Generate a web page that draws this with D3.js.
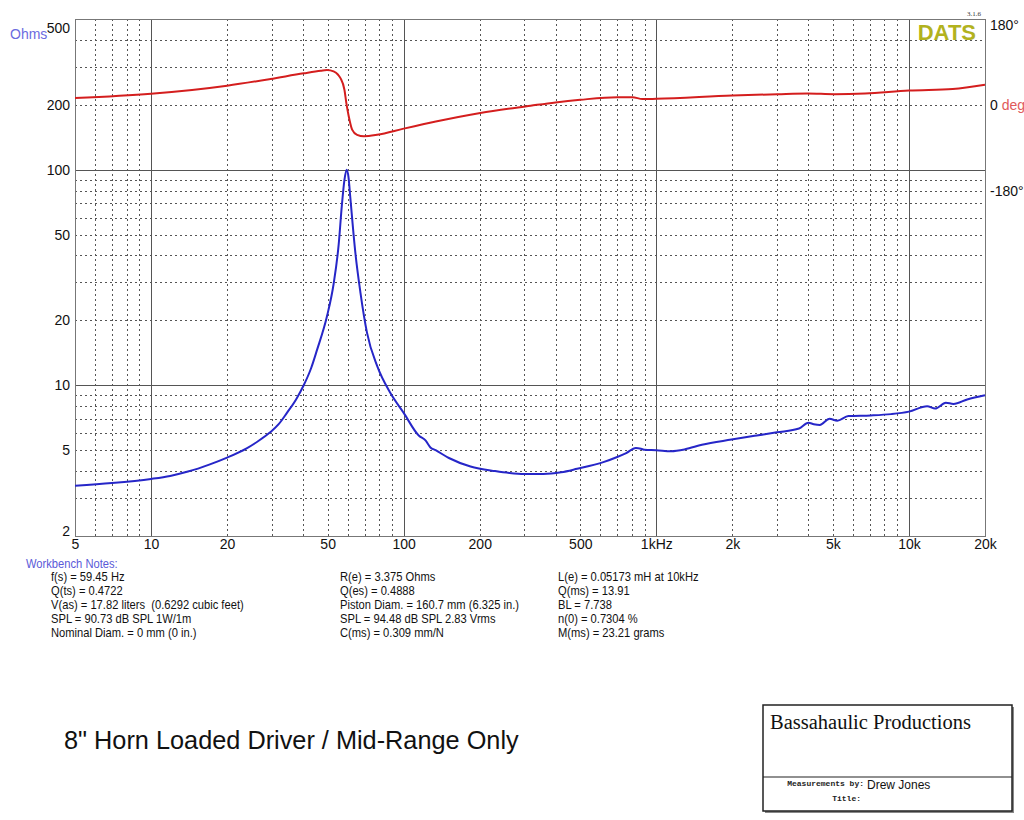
<!DOCTYPE html>
<html>
<head>
<meta charset="utf-8">
<script src="https://cdn.jsdelivr.net/npm/d3@7"></script>
<style>
  body { margin: 0; background: #fff; }
  svg { display: block; font-family: "Liberation Sans", Arial, sans-serif; }
  .grid line { stroke: #555; shape-rendering: crispEdges; }
  .grid .domain { display: none; }
  .lab .domain, .lab line { display: none; }
  .note { white-space: pre; }
</style>
</head>
<body>
<svg id="chart" width="1024" height="820"></svg>
<script>
// impedance sweep (Hz / ohms)
const zFreq = [5, 7, 10, 11.9, 14, 17.1, 20, 23.9, 26.5, 29.6, 32, 34.5, 37.5, 40.2, 43, 45.4, 49.7, 52.8, 55.3, 56.9, 58.3, 59.45, 60.5, 61.5, 64.4, 67.4, 71.6, 78.5, 88.6, 100, 114.7, 122, 127.6, 133.8, 151, 183.9, 230, 262, 300, 357, 420, 486, 617, 700, 760, 830, 870, 900, 1000, 1144, 1300, 1515, 1984, 2500, 3000, 3672, 4000, 4200, 4440, 4850, 5200, 5760, 7060, 8500, 10000, 11800, 12700, 14000, 15000, 17000, 20000];
const zOhms = [3.42, 3.52, 3.68, 3.8, 3.98, 4.3, 4.62, 5.1, 5.5, 6.05, 6.6, 7.45, 8.6, 10.0, 12.0, 14.6, 20.9, 29.5, 45, 68, 90, 100, 92, 74, 41, 27, 17.5, 12.3, 9.2, 7.45, 5.85, 5.55, 5.15, 5.0, 4.6, 4.2, 4.0, 3.92, 3.88, 3.88, 3.95, 4.1, 4.4, 4.65, 4.85, 5.12, 5.08, 5.02, 5.0, 4.95, 5.05, 5.3, 5.6, 5.85, 6.05, 6.3, 6.7, 6.6, 6.55, 7.0, 6.85, 7.2, 7.25, 7.35, 7.55, 8.0, 7.8, 8.3, 8.2, 8.6, 9.0];

// phase sweep (Hz / degrees)
const pFreq = [5, 10, 20, 29.6, 40.2, 47, 49.7, 52.8, 55, 56.2, 58.3, 59.3, 60.6, 62.5, 65.4, 69.6, 78.5, 100, 134, 201, 318, 399, 500, 702, 805, 881, 1000, 2000, 3020, 3970, 5066, 6700, 10000, 14900, 20000];
const pDeg = [14, 23, 40, 54, 66, 71.5, 73, 70, 63, 56, 31, 3.5, -24, -52, -63, -66, -63, -50, -35, -17, -2, 5, 10.5, 16, 16, 12, 12.6, 19.5, 22.3, 23.7, 22.3, 23.7, 30, 33, 42];

// tick labels
const xTicks = [5, 10, 20, 50, 100, 200, 500, 1000, 2000, 5000, 10000, 20000];
const xTickText = ["5", "10", "20", "50", "100", "200", "500", "1kHz", "2k", "5k", "10k", "20k"];
const yTicks = [2, 5, 10, 20, 50, 100, 200, 500];
const phaseTicks = [180, 0, -180];

// workbench notes, three columns
const notesCol1 = ["f(s) = 59.45 Hz", "Q(ts) = 0.4722", "V(as) = 17.82 liters  (0.6292 cubic feet)", "SPL = 90.73 dB SPL 1W/1m", "Nominal Diam. = 0 mm (0 in.)"];
const notesCol2 = ["R(e) = 3.375 Ohms", "Q(es) = 0.4888", "Piston Diam. = 160.7 mm (6.325 in.)", "SPL = 94.48 dB SPL 2.83 Vrms", "C(ms) = 0.309 mm/N"];
const notesCol3 = ["L(e) = 0.05173 mH at 10kHz", "Q(ms) = 13.91", "BL = 7.738", "n(0) = 0.7304 %", "M(ms) = 23.21 grams"];

const L = 75, R = 985, T = 19, B = 536;
const svg = d3.select("#chart");

const x = d3.scaleLog().domain([5, 20000]).range([L, R]);
const y = d3.scaleLog().domain([2, 500]).range([B, T]);
const yp = d3.scaleLinear().domain([-180, 180]).range([y(80), T]);

// grid values: every 1..9 multiple inside the domains
const minorX = [], majorX = [10, 100, 1000, 10000];
for (let d = 1; d <= 10000; d *= 10)
  for (let m = 1; m < 10; m++) {
    const v = d * m;
    if (v > 5 && v < 20000 && !majorX.includes(v)) minorX.push(v);
  }
const minorY = [], majorY = [10, 100];
for (let d = 1; d <= 100; d *= 10)
  for (let m = 1; m < 10; m++) {
    const v = d * m;
    if (v > 2 && v < 500 && !majorY.includes(v)) minorY.push(v);
  }

const H = B - T, W = R - L;

svg.append("g").attr("class", "grid").attr("transform", `translate(0,${B})`)
  .call(d3.axisBottom(x).tickValues(minorX).tickSize(-H).tickFormat(""))
  .selectAll("line").attr("stroke-dasharray", "2,3");
svg.append("g").attr("class", "grid").attr("transform", `translate(${L},0)`)
  .call(d3.axisLeft(y).tickValues(minorY).tickSize(-W).tickFormat(""))
  .selectAll("line").attr("stroke-dasharray", "2,3");
svg.append("g").attr("class", "grid").attr("transform", `translate(0,${B})`)
  .call(d3.axisBottom(x).tickValues(majorX).tickSize(-H).tickFormat(""))
  .selectAll("line").attr("stroke", "#666");
svg.append("g").attr("class", "grid").attr("transform", `translate(${L},0)`)
  .call(d3.axisLeft(y).tickValues(majorY).tickSize(-W).tickFormat(""))
  .selectAll("line").attr("stroke", "#666");

svg.append("rect").attr("x", L).attr("y", T).attr("width", W).attr("height", H)
  .attr("fill", "none").attr("stroke", "#777").attr("shape-rendering", "crispEdges");

// axis labels
const xl = svg.append("g").attr("class", "lab").attr("transform", `translate(0,${B})`)
  .call(d3.axisBottom(x).tickValues(xTicks).tickSize(0).tickPadding(3)
    .tickFormat((d, i) => xTickText[i]));
xl.selectAll("text").attr("font-size", 14).attr("fill", "#111")
  .attr("font-family", "Liberation Sans, Arial, sans-serif");

const yl = svg.append("g").attr("class", "lab").attr("transform", `translate(${L},0)`)
  .call(d3.axisLeft(y).tickValues(yTicks).tickSize(0).tickPadding(5).tickFormat(d3.format("d")));
yl.selectAll("text").attr("font-size", 14).attr("fill", "#111")
  .attr("font-family", "Liberation Sans, Arial, sans-serif")
  .attr("dy", d => d === 500 ? "0.95em" : d === 2 ? "-0.05em" : "0.32em");

const pl = svg.append("g").attr("class", "lab").attr("transform", `translate(${R},0)`)
  .call(d3.axisRight(yp).tickValues(phaseTicks).tickSize(0).tickPadding(5)
    .tickFormat(d => d === 0 ? "0" : d + "°"));
pl.selectAll("text").attr("font-size", 14).attr("fill", "#111")
  .attr("font-family", "Liberation Sans, Arial, sans-serif")
  .attr("dy", d => d === 180 ? "0.75em" : "0.32em");
pl.selectAll("text").filter(d => d === 0).append("tspan")
  .attr("fill", "#e05a5a").text(" deg");

svg.append("text").attr("x", 10).attr("y", 39).attr("font-size", 14)
  .attr("fill", "#6b6be0").text("Ohms");

// curves
const phaseLine = d3.line().x(d => x(d[0])).y(d => yp(d[1])).curve(d3.curveMonotoneX);
svg.append("path").datum(d3.zip(pFreq, pDeg)).attr("d", phaseLine)
  .attr("fill", "none").attr("stroke", "#d41e1e").attr("stroke-width", 2);

const zLine = d3.line().x(d => x(d[0])).y(d => y(d[1])).curve(d3.curveMonotoneX);
svg.append("path").datum(d3.zip(zFreq, zOhms)).attr("d", zLine)
  .attr("fill", "none").attr("stroke", "#2626c8").attr("stroke-width", 2);

// DATS badge
svg.append("text").attr("x", 976).attr("y", 40).attr("text-anchor", "end")
  .attr("font-size", 22).attr("font-weight", "bold").attr("fill", "#b2b21e").text("DATS");
svg.append("text").attr("x", 981).attr("y", 16).attr("text-anchor", "end")
  .attr("font-size", 7).attr("font-family", "Liberation Serif, serif").attr("fill", "#333").text("3.1.6");

// notes (narrow face imitated by squeezing horizontally)
const squeeze = 0.86;
svg.append("text").attr("class", "note").attr("font-size", 13)
  .attr("transform", `translate(26,568) scale(${squeeze},1)`)
  .attr("fill", "#5a5ad8").text("Workbench Notes:");
[[notesCol1, 51], [notesCol2, 340], [notesCol3, 558]].forEach(([col, cx]) => {
  svg.append("g").selectAll("text").data(col).join("text")
    .attr("class", "note")
    .attr("transform", (d, i) => `translate(${cx},${581 + i * 14}) scale(${squeeze},1)`)
    .attr("font-size", 13).attr("fill", "#111")
    .text(d => d);
});

// title
svg.append("text").attr("x", 64).attr("y", 749).attr("font-size", 25.3)
  .attr("fill", "#111").text("8\" Horn Loaded Driver / Mid-Range Only");

// title block
const bx = 763, by = 705, bw = 249, bh = 106;
svg.append("rect").attr("x", bx + 2).attr("y", by + 2).attr("width", bw).attr("height", bh)
  .attr("fill", "#888");
svg.append("rect").attr("x", bx).attr("y", by).attr("width", bw).attr("height", bh)
  .attr("fill", "#fff").attr("stroke", "#222").attr("stroke-width", 1.5);
svg.append("line").attr("x1", bx).attr("x2", bx + bw).attr("y1", 777).attr("y2", 777)
  .attr("stroke", "#222").attr("stroke-width", 1.2);
svg.append("text").attr("x", 770).attr("y", 729).attr("font-size", 20.5)
  .attr("font-family", "Liberation Serif, 'Times New Roman', serif").attr("fill", "#111")
  .text("Bassahaulic Productions");
svg.append("text").attr("x", 864).attr("y", 786).attr("text-anchor", "end")
  .attr("font-size", 8).attr("font-weight", "bold")
  .attr("font-family", "Liberation Mono, 'Courier New', monospace").attr("fill", "#222")
  .text("Measurements by:");
svg.append("text").attr("x", 861).attr("y", 801).attr("text-anchor", "end")
  .attr("font-size", 8).attr("font-weight", "bold")
  .attr("font-family", "Liberation Mono, 'Courier New', monospace").attr("fill", "#222")
  .text("Title:");
svg.append("text").attr("x", 867).attr("y", 789).attr("font-size", 12)
  .attr("fill", "#111").text("Drew Jones");
</script>
</body>
</html>
